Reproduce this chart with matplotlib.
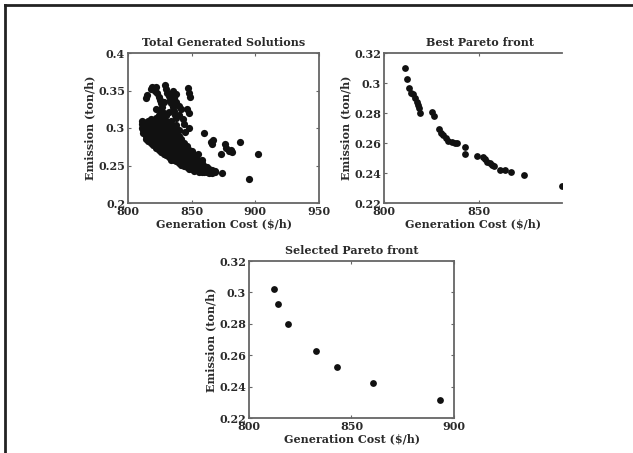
import numpy as np
import matplotlib
matplotlib.use("Agg")
import matplotlib.pyplot as plt
from matplotlib.lines import Line2D

# ---- data ----
# Total generated solutions: lower dense band, upper arc cluster, scattered points
total_cost = [
    811, 811, 811, 812, 812, 812, 812, 814, 814, 814, 814, 814,
    816, 816, 816, 816, 816, 816, 818, 818, 818, 818, 818, 818, 818,
    820, 820, 820, 820, 820, 820, 820, 822, 822, 822, 822, 822, 822, 822, 822,
    824, 824, 824, 824, 824, 824, 824, 824, 826, 826, 826, 826, 826, 826, 826, 826, 826,
    828, 828, 828, 828, 828, 828, 828, 828, 828, 830, 830, 830, 830, 830, 830, 830, 830, 830, 830,
    832, 832, 832, 832, 832, 832, 832, 832, 832, 834, 834, 834, 834, 834, 834, 834, 834, 834, 834,
    836, 836, 836, 836, 836, 836, 836, 836, 838, 838, 838, 838, 838, 838, 838, 838, 838,
    840, 840, 840, 840, 840, 840, 840, 840, 840, 842, 842, 842, 842, 842, 842, 842, 842,
    844, 844, 844, 844, 844, 844, 844, 846, 846, 846, 846, 846, 846, 846,
    848, 848, 848, 848, 848, 848, 848, 850, 850, 850, 850, 850, 850, 850,
    852, 852, 852, 852, 852, 852, 852, 854, 854, 854, 854, 854, 854,
    856, 856, 856, 856, 856, 856, 858, 858, 858, 858, 858, 860, 860, 860, 860, 860,
    862, 862, 862, 862, 864, 864, 864, 864, 866, 866, 866, 868, 868,
    814, 815, 818, 819, 821, 822, 823, 824, 825, 826, 827, 828, 829, 830, 831, 832,
    833, 834, 835, 836, 837, 838, 826, 828, 830, 832, 834, 836, 838, 840, 842, 840,
    843, 847, 848, 849, 846, 848, 848, 844, 845, 835, 838, 824, 822,
    859.7, 865, 866, 867, 876, 877, 879, 881, 888, 882, 873, 874, 895, 902, 855, 850, 858,
]
total_emis = [
    0.310, 0.305, 0.300, 0.308, 0.302, 0.297, 0.293, 0.306, 0.300, 0.295, 0.290, 0.286,
    0.309, 0.303, 0.297, 0.292, 0.287, 0.283, 0.312, 0.305, 0.299, 0.294, 0.289, 0.284, 0.280,
    0.310, 0.303, 0.297, 0.291, 0.286, 0.281, 0.277, 0.314, 0.307, 0.300, 0.294, 0.288, 0.283, 0.278, 0.274,
    0.311, 0.304, 0.297, 0.291, 0.285, 0.280, 0.275, 0.271, 0.316, 0.308, 0.301, 0.294, 0.288, 0.282, 0.277, 0.272, 0.268,
    0.312, 0.305, 0.298, 0.291, 0.285, 0.279, 0.274, 0.269, 0.266, 0.318, 0.309, 0.302, 0.295, 0.288, 0.282, 0.276, 0.271, 0.267, 0.264,
    0.306, 0.299, 0.292, 0.285, 0.279, 0.273, 0.268, 0.264, 0.261, 0.310, 0.303, 0.296, 0.289, 0.282, 0.276, 0.270, 0.265, 0.261, 0.258,
    0.300, 0.292, 0.285, 0.279, 0.272, 0.267, 0.262, 0.258, 0.304, 0.295, 0.288, 0.281, 0.275, 0.269, 0.264, 0.259, 0.256,
    0.298, 0.290, 0.283, 0.277, 0.271, 0.266, 0.261, 0.257, 0.253, 0.286, 0.279, 0.273, 0.267, 0.262, 0.258, 0.254, 0.251,
    0.280, 0.274, 0.268, 0.263, 0.258, 0.254, 0.250, 0.276, 0.270, 0.264, 0.259, 0.255, 0.251, 0.248,
    0.271, 0.265, 0.260, 0.256, 0.252, 0.249, 0.246, 0.267, 0.262, 0.257, 0.253, 0.250, 0.247, 0.245,
    0.263, 0.258, 0.254, 0.251, 0.248, 0.245, 0.243, 0.259, 0.255, 0.251, 0.248, 0.246, 0.244,
    0.256, 0.252, 0.249, 0.246, 0.244, 0.242, 0.253, 0.249, 0.247, 0.245, 0.242, 0.250, 0.247, 0.245, 0.243, 0.241,
    0.248, 0.245, 0.243, 0.241, 0.246, 0.243, 0.241, 0.240, 0.244, 0.242, 0.240, 0.243, 0.241,
    0.340, 0.344, 0.352, 0.355, 0.350, 0.355, 0.347, 0.342, 0.338, 0.333, 0.328, 0.335, 0.357, 0.352, 0.347, 0.343,
    0.338, 0.333, 0.328, 0.323, 0.318, 0.313, 0.323, 0.320, 0.318, 0.322, 0.345, 0.340, 0.335, 0.330, 0.325, 0.318,
    0.312, 0.353, 0.347, 0.342, 0.325, 0.320, 0.300, 0.305, 0.295, 0.350, 0.345, 0.318, 0.325,
    0.293, 0.282, 0.279, 0.284, 0.279, 0.274, 0.270, 0.271, 0.282, 0.268, 0.266, 0.240, 0.232, 0.266, 0.265, 0.270, 0.258,
]

best_cost = [811.1, 811.9, 813.3, 814.2, 815.4, 816.3, 817.2, 817.7, 818.4, 819.0,
             825.4, 826.3, 828.9, 830.0, 831.2, 832.5, 833.9, 835.6, 837.4, 838.3,
             842.6, 842.9, 849.1, 852.3, 853.2, 854.4, 855.8, 857.0, 857.9, 861.0,
             863.7, 867.0, 873.7, 893.5]
best_emis = [0.3102, 0.3024, 0.2964, 0.2935, 0.2927, 0.2898, 0.2876, 0.2853, 0.2831, 0.2802,
             0.2809, 0.2780, 0.2691, 0.2665, 0.2653, 0.2631, 0.2615, 0.2604, 0.2602, 0.2598,
             0.2571, 0.2527, 0.2513, 0.2509, 0.2491, 0.2475, 0.2465, 0.2453, 0.2447, 0.2420,
             0.2420, 0.2409, 0.2387, 0.2316]

sel_cost = [812.2, 814.2, 819.0, 832.7, 843.0, 860.4, 893.4]
sel_emis = [0.3024, 0.2924, 0.2801, 0.2625, 0.2527, 0.2423, 0.2315]

TEXT = "#2b2b2b"
SPINE = "#666666"
plt.rcParams.update({
    "font.family": "DejaVu Serif",
    "font.weight": "bold",
    "font.size": 8,
    "text.color": TEXT,
    "axes.labelcolor": TEXT,
    "axes.labelweight": "bold",
    "axes.titleweight": "bold",
    "xtick.color": SPINE,
    "ytick.color": SPINE,
    "xtick.labelcolor": TEXT,
    "ytick.labelcolor": TEXT,
})


def style_axes(ax, title, xlim, xticks, ylim, yticks, ylabels):
    ax.set_xlim(*xlim)
    ax.set_ylim(*ylim)
    ax.set_xticks(xticks)
    ax.set_yticks(yticks)
    ax.set_yticklabels(ylabels)
    ax.set_title(title, fontsize=8, pad=5)
    ax.set_xlabel("Generation Cost ($/h)", fontsize=8, labelpad=1)
    ax.set_ylabel("Emission (ton/h)", fontsize=8, labelpad=2)
    ax.tick_params(direction="in", length=2.5, width=0.8, top=True, right=True,
                   labelsize=8, pad=2)
    for s in ax.spines.values():
        s.set_color(SPINE)
        s.set_linewidth(1.3)


fig = plt.figure(figsize=(6.33, 4.53), dpi=100)

ax1 = fig.add_axes([128 / 633, 1 - 203 / 453, 191 / 633, 150 / 453])
ax1.scatter(total_cost, total_emis, s=27, color="#111111", linewidths=0)
style_axes(ax1, "Total Generated Solutions", (800, 950), [800, 850, 900, 950],
           (0.2, 0.4), [0.2, 0.25, 0.3, 0.35, 0.4], ["0.2", "0.25", "0.3", "0.35", "0.4"])

ax2 = fig.add_axes([384 / 633, 1 - 203 / 453, 178 / 633, 150 / 453])
ax2.scatter(best_cost, best_emis, s=24, color="#111111", linewidths=0)
style_axes(ax2, "Best Pareto front", (800, 893.7), [800, 850],
           (0.22, 0.32), [0.22, 0.24, 0.26, 0.28, 0.30, 0.32],
           ["0.22", "0.24", "0.26", "0.28", "0.3", "0.32"])
ax2.spines["right"].set_visible(False)
ax2.tick_params(right=False)
ax2.title.set_position((0.54, 1.0))

ax3 = fig.add_axes([249 / 633, 1 - 418 / 453, 205 / 633, 157 / 453])
ax3.scatter(sel_cost, sel_emis, s=24, color="#111111", linewidths=0)
style_axes(ax3, "Selected Pareto front", (800, 900), [800, 850, 900],
           (0.22, 0.32), [0.22, 0.24, 0.26, 0.28, 0.30, 0.32],
           ["0.22", "0.24", "0.26", "0.28", "0.3", "0.32"])

# outer frame: top and left edges only
fig.add_artist(Line2D([5 / 633, 1], [1 - 5 / 453, 1 - 5 / 453], color="#222222", lw=2))
fig.add_artist(Line2D([5 / 633, 5 / 633], [0, 1 - 5 / 453], color="#222222", lw=2))

fig.savefig("out.png", dpi=100)
